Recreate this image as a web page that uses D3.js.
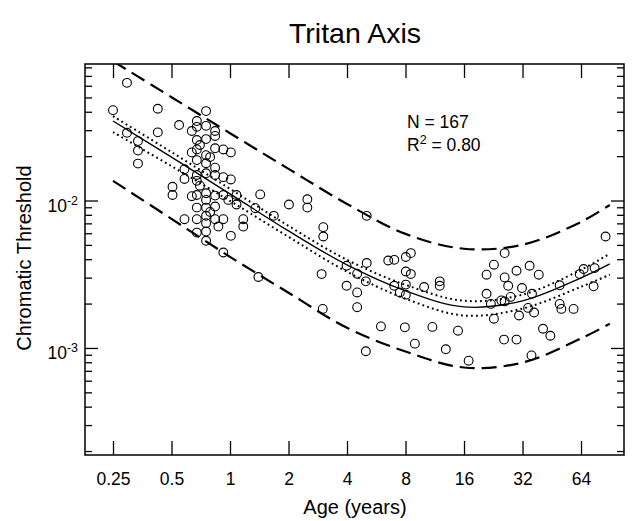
<!DOCTYPE html>
<html>
<head>
<meta charset="utf-8">
<script src="https://cdn.jsdelivr.net/npm/d3@7/dist/d3.min.js"></script>
<style>
body{margin:0;background:#fff}
text{font-family:"Liberation Sans",Arial,sans-serif;fill:#000}
</style>
</head>
<body>
<div id="chart"></div>
<script>
// individual subjects: age (years) and threshold
var ages = [
0.295,0.25,0.425,0.753,0.547,0.295,0.425,0.336,0.336,0.336,
0.675,0.675,0.636,0.753,0.838,0.838,0.675,0.753,0.838,0.924,
1.01,0.636,0.675,0.753,0.675,0.753,0.838,0.583,0.583,0.675,
0.675,0.753,0.924,1.01,0.506,0.506,0.636,0.675,0.753,0.838,
0.924,1.08,1.43,0.753,0.675,0.753,0.838,1.08,1.35,2.01,
2.50,2.50,1.68,0.583,0.675,0.753,0.753,0.838,0.924,0.871,
0.753,0.675,1.17,1.17,1.01,0.753,0.924,3.02,3.02,1.40,
5.05,3.98,2.96,5.05,4.51,5.00,3.98,4.51,4.51,3.00,
6.52,7.00,8.03,8.52,8.03,8.52,7.00,8.03,7.48,8.03,
9.97,12.0,12.0,5.98,7.94,8.94,11.0,14.9,12.9,5.00,
16.9,20.9,22.8,25.9,25.9,27.0,29.8,34.8,38.8,20.9,
22.0,24.9,25.9,27.8,31.8,35.8,22.8,30.7,34.2,36.7,
40.8,44.5,25.7,29.8,35.6,49.7,49.7,50.7,58.6,63.0,
66.0,75.2,74.3,85.6,
0.79,0.838,0.79,0.70,0.98,0.70
];
// thresholds in units of 1e-3
var thresholds = [
62.8,41.0,41.9,40.4,32.5,28.8,29.0,25.3,21.8,17.8,
34.6,31.6,29.6,32.1,29.6,27.4,25.7,26.1,22.6,22.2,
21.2,21.2,22.2,20.3,18.8,17.9,16.7,16.3,14.0,14.9,
13.6,15.3,14.4,13.9,12.4,10.9,10.7,10.9,11.2,10.8,
10.9,10.9,11.0,10.1,8.95,8.95,9.1,9.4,8.87,9.4,
10.2,8.95,7.87,7.47,7.47,7.87,7.02,7.47,7.47,6.66,
6.16,6.06,7.47,6.66,5.76,5.33,4.44,6.60,5.70,3.03,
7.87,3.61,3.17,3.77,3.19,2.83,2.64,2.38,1.89,1.84,
3.92,3.96,4.14,4.40,3.30,3.17,2.64,2.69,2.38,2.30,
2.59,2.83,2.64,1.40,1.38,1.07,1.39,1.31,0.98,0.95,
0.82,3.14,3.67,4.40,3.01,2.64,3.34,3.61,3.14,2.33,
1.99,2.10,2.07,2.22,2.55,2.33,1.58,1.66,1.87,1.74,
1.35,1.21,1.14,1.14,0.89,2.66,1.99,1.84,1.84,3.17,
3.43,3.48,2.62,5.70,
19.7,14.9,8.37,12.6,10.1,23.8
];

// fitted curve and bands, read at these ages
var curveAges = [0.25,0.5,1,2,4,8,16,32,64,90];
var fitLine   = [0.0346,0.0197,0.0111,0.00622,0.00366,0.00244,0.00190,0.00209,0.00299,0.00372];
var confUpper = [0.0373,0.0213,0.0120,0.00673,0.00396,0.00268,0.00209,0.00230,0.00339,0.00436];
var confLower = [0.0291,0.0171,0.00994,0.00567,0.00329,0.00216,0.00166,0.00185,0.00260,0.00314];
var predUpper = [0.0880,0.0502,0.0286,0.0164,0.00948,0.00594,0.00471,0.00501,0.00716,0.00933];
var predLower = [0.0136,0.00751,0.00415,0.00237,0.00137,0.000946,0.000737,0.000796,0.00116,0.00146];

var xTicks = [0.25,0.5,1,2,4,8,16,32,64];
var xTickLabels = ["0.25","0.5","1","2","4","8","16","32","64"];
var yMajor = [1e-3,1e-2];
var yMajorLabels = ["-3","-2"];

var width = 636, height = 521;
var plotLeft = 85, plotRight = 624, plotTop = 64, plotBottom = 455;

var svg = d3.select("#chart").append("svg")
    .attr("width", width)
    .attr("height", height);

var x = d3.scaleLog().base(2).domain([0.1794,106.5]).range([plotLeft,plotRight]);
var y = d3.scaleLog().domain([1.88e-4,0.0843]).range([plotBottom,plotTop]);

// minor y ticks 2..9 x 10^k inside the domain
var yMinor = [];
[-4,-3,-2,-1].forEach(function(e){
    for(var k=2;k<=9;k++){
        var v = k*Math.pow(10,e);
        if(v>y.domain()[0] && v<y.domain()[1]) yMinor.push(v);
    }
});

svg.append("clipPath").attr("id","plotclip")
  .append("rect").attr("x",plotLeft).attr("y",plotTop)
  .attr("width",plotRight-plotLeft).attr("height",plotBottom-plotTop);

function styleAxis(g){
    g.select(".domain").remove();
    g.selectAll("line").attr("stroke","#000").attr("stroke-width",1.3);
}

// x axes (bottom with labels, top without)
svg.append("g").attr("transform","translate(0,"+plotBottom+")")
  .call(d3.axisBottom(x).tickValues(xTicks).tickSize(-14).tickPadding(18)
        .tickFormat(function(d,i){return xTickLabels[i];}))
  .call(styleAxis)
  .selectAll("text").attr("font-size",17.5).attr("font-family","Liberation Sans, Arial, sans-serif");
svg.append("g").attr("transform","translate(0,"+plotTop+")")
  .call(d3.axisTop(x).tickValues(xTicks).tickSize(-14).tickFormat(""))
  .call(styleAxis);

// y axes, left and right, major and minor
svg.append("g").attr("transform","translate("+plotLeft+",0)")
  .call(d3.axisLeft(y).tickValues(yMajor).tickSize(-13).tickFormat(""))
  .call(styleAxis);
svg.append("g").attr("transform","translate("+plotLeft+",0)")
  .call(d3.axisLeft(y).tickValues(yMinor).tickSize(-7).tickFormat(""))
  .call(styleAxis);
svg.append("g").attr("transform","translate("+plotRight+",0)")
  .call(d3.axisRight(y).tickValues(yMajor).tickSize(-13).tickFormat(""))
  .call(styleAxis);
svg.append("g").attr("transform","translate("+plotRight+",0)")
  .call(d3.axisRight(y).tickValues(yMinor).tickSize(-7).tickFormat(""))
  .call(styleAxis);

// y labels with superscript
yMajor.forEach(function(v,i){
    var t = svg.append("text")
        .attr("x", 78)
        .attr("y", y(v)+11.5)
        .attr("text-anchor","end")
        .attr("font-size",17.5);
    t.append("tspan").text("10");
    t.append("tspan").attr("dy",-7.5).attr("font-size",12.5).text(yMajorLabels[i]);
});

// frame
svg.append("rect")
  .attr("x",plotLeft).attr("y",plotTop)
  .attr("width",plotRight-plotLeft).attr("height",plotBottom-plotTop)
  .attr("fill","none").attr("stroke","#000").attr("stroke-width",1.5);

var plot = svg.append("g").attr("clip-path","url(#plotclip)");

function curvePath(vals){
    return d3.line()
        .x(function(d,i){return x(curveAges[i]);})
        .y(function(d){return y(d);})
        .curve(d3.curveCatmullRom.alpha(0.5))(vals);
}

plot.append("path").attr("d",curvePath(predUpper))
  .attr("fill","none").attr("stroke","#000").attr("stroke-width",2.2).attr("stroke-dasharray","15,7");
plot.append("path").attr("d",curvePath(predLower))
  .attr("fill","none").attr("stroke","#000").attr("stroke-width",2.2).attr("stroke-dasharray","15,7");
plot.append("path").attr("d",curvePath(confUpper))
  .attr("fill","none").attr("stroke","#000").attr("stroke-width",2).attr("stroke-dasharray","1.8,3.2");
plot.append("path").attr("d",curvePath(confLower))
  .attr("fill","none").attr("stroke","#000").attr("stroke-width",2).attr("stroke-dasharray","1.8,3.2");
plot.append("path").attr("d",curvePath(fitLine))
  .attr("fill","none").attr("stroke","#000").attr("stroke-width",1.3);

// subjects
plot.append("g").selectAll("circle")
  .data(ages)
  .enter()
  .append("circle")
    .attr("cx",function(d){return x(d);})
    .attr("cy",function(d,i){return y(thresholds[i]*1e-3);})
    .attr("r",4.4)
    .attr("fill","none")
    .attr("stroke","#000")
    .attr("stroke-width",1.1);

// stats
svg.append("text").attr("x",407).attr("y",128).attr("font-size",17.5).text("N = 167");
var r2 = svg.append("text").attr("x",407).attr("y",151).attr("font-size",17.5);
r2.append("tspan").text("R");
r2.append("tspan").attr("dy",-7).attr("font-size",12.5).text("2");
r2.append("tspan").attr("dy",7).text(" = 0.80");

// titles
svg.append("text").attr("x",355).attr("y",43).attr("text-anchor","middle")
  .attr("font-size",28.5).text("Tritan Axis");
svg.append("text").attr("x",355).attr("y",514).attr("text-anchor","middle")
  .attr("font-size",20).text("Age (years)");
svg.append("text").attr("transform","translate(31,258) rotate(-90)")
  .attr("text-anchor","middle").attr("font-size",20).text("Chromatic Threshold");
</script>
</body>
</html>
